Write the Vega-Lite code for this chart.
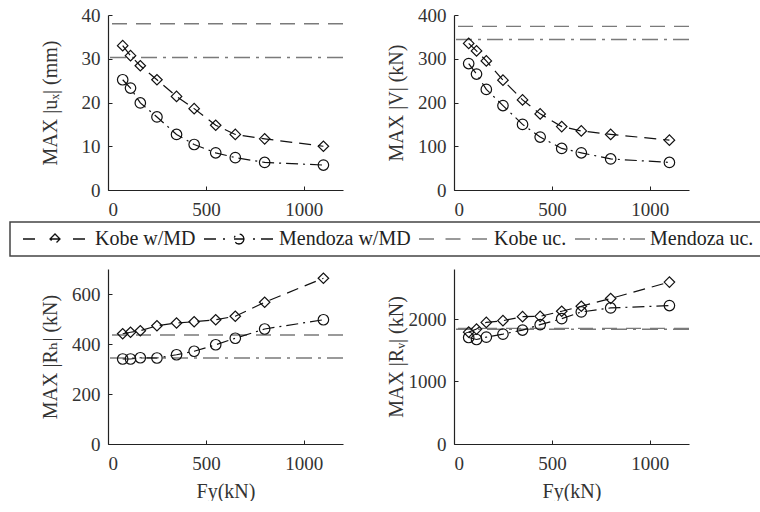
{
  "$schema": "https://vega.github.io/schema/vega-lite/v6.json",
  "padding": {"left": 9, "top": 6, "right": 0, "bottom": 0},
  "bounds": "flush",
  "data": {
    "values": [
      {"panel": "ux", "series": "Kobe w/MD", "kind": "md", "Fy": 75, "value": 33.0},
      {"panel": "ux", "series": "Kobe w/MD", "kind": "md", "Fy": 115, "value": 30.7},
      {"panel": "ux", "series": "Kobe w/MD", "kind": "md", "Fy": 165, "value": 28.4},
      {"panel": "ux", "series": "Kobe w/MD", "kind": "md", "Fy": 250, "value": 25.2},
      {"panel": "ux", "series": "Kobe w/MD", "kind": "md", "Fy": 350, "value": 21.4},
      {"panel": "ux", "series": "Kobe w/MD", "kind": "md", "Fy": 440, "value": 18.6},
      {"panel": "ux", "series": "Kobe w/MD", "kind": "md", "Fy": 550, "value": 14.8},
      {"panel": "ux", "series": "Kobe w/MD", "kind": "md", "Fy": 650, "value": 12.7},
      {"panel": "ux", "series": "Kobe w/MD", "kind": "md", "Fy": 800, "value": 11.7},
      {"panel": "ux", "series": "Kobe w/MD", "kind": "md", "Fy": 1100, "value": 10.0},
      {"panel": "ux", "series": "Mendoza w/MD", "kind": "md", "Fy": 75, "value": 25.2},
      {"panel": "ux", "series": "Mendoza w/MD", "kind": "md", "Fy": 115, "value": 23.3},
      {"panel": "ux", "series": "Mendoza w/MD", "kind": "md", "Fy": 165, "value": 19.9},
      {"panel": "ux", "series": "Mendoza w/MD", "kind": "md", "Fy": 250, "value": 16.7},
      {"panel": "ux", "series": "Mendoza w/MD", "kind": "md", "Fy": 350, "value": 12.7},
      {"panel": "ux", "series": "Mendoza w/MD", "kind": "md", "Fy": 440, "value": 10.4},
      {"panel": "ux", "series": "Mendoza w/MD", "kind": "md", "Fy": 550, "value": 8.5},
      {"panel": "ux", "series": "Mendoza w/MD", "kind": "md", "Fy": 650, "value": 7.4},
      {"panel": "ux", "series": "Mendoza w/MD", "kind": "md", "Fy": 800, "value": 6.3},
      {"panel": "ux", "series": "Mendoza w/MD", "kind": "md", "Fy": 1100, "value": 5.7},
      {"panel": "ux", "series": "Kobe uc.", "kind": "uc", "value": 38.0},
      {"panel": "ux", "series": "Mendoza uc.", "kind": "uc", "value": 30.3},

      {"panel": "V", "series": "Kobe w/MD", "kind": "md", "Fy": 75, "value": 335},
      {"panel": "V", "series": "Kobe w/MD", "kind": "md", "Fy": 115, "value": 318},
      {"panel": "V", "series": "Kobe w/MD", "kind": "md", "Fy": 165, "value": 295},
      {"panel": "V", "series": "Kobe w/MD", "kind": "md", "Fy": 250, "value": 251},
      {"panel": "V", "series": "Kobe w/MD", "kind": "md", "Fy": 350, "value": 206},
      {"panel": "V", "series": "Kobe w/MD", "kind": "md", "Fy": 440, "value": 174},
      {"panel": "V", "series": "Kobe w/MD", "kind": "md", "Fy": 550, "value": 145},
      {"panel": "V", "series": "Kobe w/MD", "kind": "md", "Fy": 650, "value": 135},
      {"panel": "V", "series": "Kobe w/MD", "kind": "md", "Fy": 800, "value": 127},
      {"panel": "V", "series": "Kobe w/MD", "kind": "md", "Fy": 1100, "value": 114},
      {"panel": "V", "series": "Mendoza w/MD", "kind": "md", "Fy": 75, "value": 289},
      {"panel": "V", "series": "Mendoza w/MD", "kind": "md", "Fy": 115, "value": 265},
      {"panel": "V", "series": "Mendoza w/MD", "kind": "md", "Fy": 165, "value": 230},
      {"panel": "V", "series": "Mendoza w/MD", "kind": "md", "Fy": 250, "value": 193},
      {"panel": "V", "series": "Mendoza w/MD", "kind": "md", "Fy": 350, "value": 150},
      {"panel": "V", "series": "Mendoza w/MD", "kind": "md", "Fy": 440, "value": 121},
      {"panel": "V", "series": "Mendoza w/MD", "kind": "md", "Fy": 550, "value": 95},
      {"panel": "V", "series": "Mendoza w/MD", "kind": "md", "Fy": 650, "value": 85},
      {"panel": "V", "series": "Mendoza w/MD", "kind": "md", "Fy": 800, "value": 71},
      {"panel": "V", "series": "Mendoza w/MD", "kind": "md", "Fy": 1100, "value": 63},
      {"panel": "V", "series": "Kobe uc.", "kind": "uc", "value": 374},
      {"panel": "V", "series": "Mendoza uc.", "kind": "uc", "value": 344},

      {"panel": "Rh", "series": "Kobe w/MD", "kind": "md", "Fy": 75, "value": 441},
      {"panel": "Rh", "series": "Kobe w/MD", "kind": "md", "Fy": 115, "value": 447},
      {"panel": "Rh", "series": "Kobe w/MD", "kind": "md", "Fy": 165, "value": 453},
      {"panel": "Rh", "series": "Kobe w/MD", "kind": "md", "Fy": 250, "value": 473},
      {"panel": "Rh", "series": "Kobe w/MD", "kind": "md", "Fy": 350, "value": 484},
      {"panel": "Rh", "series": "Kobe w/MD", "kind": "md", "Fy": 440, "value": 489},
      {"panel": "Rh", "series": "Kobe w/MD", "kind": "md", "Fy": 550, "value": 497},
      {"panel": "Rh", "series": "Kobe w/MD", "kind": "md", "Fy": 650, "value": 511},
      {"panel": "Rh", "series": "Kobe w/MD", "kind": "md", "Fy": 800, "value": 567},
      {"panel": "Rh", "series": "Kobe w/MD", "kind": "md", "Fy": 1100, "value": 663},
      {"panel": "Rh", "series": "Mendoza w/MD", "kind": "md", "Fy": 75, "value": 340},
      {"panel": "Rh", "series": "Mendoza w/MD", "kind": "md", "Fy": 115, "value": 340},
      {"panel": "Rh", "series": "Mendoza w/MD", "kind": "md", "Fy": 165, "value": 345},
      {"panel": "Rh", "series": "Mendoza w/MD", "kind": "md", "Fy": 250, "value": 344},
      {"panel": "Rh", "series": "Mendoza w/MD", "kind": "md", "Fy": 350, "value": 357},
      {"panel": "Rh", "series": "Mendoza w/MD", "kind": "md", "Fy": 440, "value": 371},
      {"panel": "Rh", "series": "Mendoza w/MD", "kind": "md", "Fy": 550, "value": 397},
      {"panel": "Rh", "series": "Mendoza w/MD", "kind": "md", "Fy": 650, "value": 423},
      {"panel": "Rh", "series": "Mendoza w/MD", "kind": "md", "Fy": 800, "value": 460},
      {"panel": "Rh", "series": "Mendoza w/MD", "kind": "md", "Fy": 1100, "value": 497},
      {"panel": "Rh", "series": "Kobe uc.", "kind": "uc", "value": 436},
      {"panel": "Rh", "series": "Mendoza uc.", "kind": "uc", "value": 344},

      {"panel": "Rv", "series": "Kobe w/MD", "kind": "md", "Fy": 75, "value": 1790},
      {"panel": "Rv", "series": "Kobe w/MD", "kind": "md", "Fy": 115, "value": 1839},
      {"panel": "Rv", "series": "Kobe w/MD", "kind": "md", "Fy": 165, "value": 1946},
      {"panel": "Rv", "series": "Kobe w/MD", "kind": "md", "Fy": 250, "value": 1973},
      {"panel": "Rv", "series": "Kobe w/MD", "kind": "md", "Fy": 350, "value": 2038},
      {"panel": "Rv", "series": "Kobe w/MD", "kind": "md", "Fy": 440, "value": 2043},
      {"panel": "Rv", "series": "Kobe w/MD", "kind": "md", "Fy": 550, "value": 2124},
      {"panel": "Rv", "series": "Kobe w/MD", "kind": "md", "Fy": 650, "value": 2204},
      {"panel": "Rv", "series": "Kobe w/MD", "kind": "md", "Fy": 800, "value": 2328},
      {"panel": "Rv", "series": "Kobe w/MD", "kind": "md", "Fy": 1100, "value": 2591},
      {"panel": "Rv", "series": "Mendoza w/MD", "kind": "md", "Fy": 75, "value": 1704},
      {"panel": "Rv", "series": "Mendoza w/MD", "kind": "md", "Fy": 115, "value": 1672},
      {"panel": "Rv", "series": "Mendoza w/MD", "kind": "md", "Fy": 165, "value": 1710},
      {"panel": "Rv", "series": "Mendoza w/MD", "kind": "md", "Fy": 250, "value": 1758},
      {"panel": "Rv", "series": "Mendoza w/MD", "kind": "md", "Fy": 350, "value": 1823},
      {"panel": "Rv", "series": "Mendoza w/MD", "kind": "md", "Fy": 440, "value": 1909},
      {"panel": "Rv", "series": "Mendoza w/MD", "kind": "md", "Fy": 550, "value": 2005},
      {"panel": "Rv", "series": "Mendoza w/MD", "kind": "md", "Fy": 650, "value": 2113},
      {"panel": "Rv", "series": "Mendoza w/MD", "kind": "md", "Fy": 800, "value": 2177},
      {"panel": "Rv", "series": "Mendoza w/MD", "kind": "md", "Fy": 1100, "value": 2215},
      {"panel": "Rv", "series": "Kobe uc.", "kind": "uc", "value": 1850},
      {"panel": "Rv", "series": "Mendoza uc.", "kind": "uc", "value": 1835}
    ]
  },
  "columns": 2,
  "spacing": {"row": 79, "column": 111},
  "resolve": {
    "scale": {"stroke": "shared", "strokeDash": "shared", "shape": "shared"},
    "legend": {"stroke": "shared"}
  },
  "concat": [
    {
      "width": 235, "height": 175,
      "transform": [{"filter": "datum.panel === 'ux'"}],
      "encoding": {
        "y": {"field": "value", "type": "quantitative", "scale": {"domain": [0, 40], "nice": false}, "axis": {"title": "MAX |uₓ| (mm)", "values": [0, 10, 20, 30, 40]}}
      },
      "layer": [
        {
          "transform": [{"filter": "datum.kind === 'uc'"}],
          "mark": {"type": "rule", "strokeWidth": 1.4},
          "encoding": {
            "stroke": {"field": "series", "type": "nominal",
              "scale": {"domain": ["Kobe w/MD", "Mendoza w/MD", "Kobe uc.", "Mendoza uc."], "range": ["#111111", "#111111", "#7a7a7a", "#7a7a7a"]},
              "legend": {
                "title": null, "orient": "none", "direction": "horizontal", "legendX": -98, "legendY": 207,
                "symbolSize": 100, "symbolStrokeWidth": 1.3, "symbolOffset": 28, "labelOffset": 30, "columnPadding": 5, "padding": 7,
                "labelFont": "Liberation Serif, Times New Roman, DejaVu Serif, serif", "labelFontSize": 20, "labelColor": "#222222", "labelLimit": 300,
                "strokeColor": "#444444",
                "encode": {
                  "legend": {"update": {"strokeWidth": {"value": 1.5}}},
                  "symbols": {"update": {
                    "shape": {"signal": "datum.value === 'Kobe w/MD' ? 'M-6.4,0L-3.6,0M3.6,0L6.4,0M0,-1L1,0L0,1L-1,0ZM-1,0L1,0' : datum.value === 'Mendoza w/MD' ? 'M-7,0L-4.4,0M-3.2,0L-2.8,0M2.8,0L3.2,0M4.4,0L7,0M1,0L0.866,0.5L0.5,0.866L0,1L-0.5,0.866L-0.866,0.5L-1,0L-0.866,-0.5L-0.5,-0.866L0,-1L0.5,-0.866L0.866,-0.5ZM-1,0L1,0' : datum.value === 'Kobe uc.' ? 'M-7,0L-3.6,0M-1.7,0L1.7,0M3.6,0L7,0' : 'M-7,0L-4,0M-3,0L-2.6,0M-1.6,0L1.6,0M2.6,0L3,0M4,0L7,0'"},
                    "strokeDash": {"value": [1, 0]},
                    "fill": {"value": "transparent"}
                  }}
                }
              }
            },
            "strokeDash": {"field": "series", "type": "nominal", "scale": {"domain": ["Kobe w/MD", "Mendoza w/MD", "Kobe uc.", "Mendoza uc."], "range": [[12, 7], [12, 5, 2, 5], [15, 9], [16, 6, 3, 6]]}, "legend": null}
          }
        },
        {
          "transform": [{"filter": "datum.kind === 'md'"}],
          "mark": {"type": "line", "color": "#111111", "strokeWidth": 1.2},
          "encoding": {
            "x": {"field": "Fy", "type": "quantitative", "scale": {"domain": [0, 1200], "nice": false}, "axis": {"title": null, "values": [0, 500, 1000]}},
            "strokeDash": {"field": "series", "type": "nominal", "legend": null}
          }
        },
        {
          "transform": [{"filter": "datum.kind === 'md'"}],
          "mark": {"type": "point", "filled": false, "color": "#111111", "size": 110, "strokeWidth": 1.2, "opacity": 1},
          "encoding": {
            "x": {"field": "Fy", "type": "quantitative"},
            "shape": {"field": "series", "type": "nominal", "scale": {"domain": ["Kobe w/MD", "Mendoza w/MD"], "range": ["diamond", "circle"]}, "legend": null}
          }
        }
      ]
    },
    {
      "width": 235, "height": 175,
      "transform": [{"filter": "datum.panel === 'V'"}],
      "encoding": {
        "y": {"field": "value", "type": "quantitative", "scale": {"domain": [0, 400], "nice": false}, "axis": {"title": "MAX |V| (kN)", "values": [0, 100, 200, 300, 400]}}
      },
      "layer": [
        {
          "transform": [{"filter": "datum.kind === 'uc'"}],
          "mark": {"type": "rule", "strokeWidth": 1.4},
          "encoding": {
            "stroke": {"field": "series", "type": "nominal", "legend": null},
            "strokeDash": {"field": "series", "type": "nominal", "legend": null}
          }
        },
        {
          "transform": [{"filter": "datum.kind === 'md'"}],
          "mark": {"type": "line", "color": "#111111", "strokeWidth": 1.2},
          "encoding": {
            "x": {"field": "Fy", "type": "quantitative", "scale": {"domain": [0, 1200], "nice": false}, "axis": {"title": null, "values": [0, 500, 1000]}},
            "strokeDash": {"field": "series", "type": "nominal", "legend": null}
          }
        },
        {
          "transform": [{"filter": "datum.kind === 'md'"}],
          "mark": {"type": "point", "filled": false, "color": "#111111", "size": 110, "strokeWidth": 1.2, "opacity": 1},
          "encoding": {
            "x": {"field": "Fy", "type": "quantitative"},
            "shape": {"field": "series", "type": "nominal", "legend": null}
          }
        }
      ]
    },
    {
      "width": 235, "height": 175,
      "transform": [{"filter": "datum.panel === 'Rh'"}],
      "encoding": {
        "y": {"field": "value", "type": "quantitative", "scale": {"domain": [0, 700], "nice": false}, "axis": {"title": "MAX |Rₕ| (kN)", "values": [0, 200, 400, 600]}}
      },
      "layer": [
        {
          "transform": [{"filter": "datum.kind === 'uc'"}],
          "mark": {"type": "rule", "strokeWidth": 1.4},
          "encoding": {
            "stroke": {"field": "series", "type": "nominal", "legend": null},
            "strokeDash": {"field": "series", "type": "nominal", "legend": null}
          }
        },
        {
          "transform": [{"filter": "datum.kind === 'md'"}],
          "mark": {"type": "line", "color": "#111111", "strokeWidth": 1.2},
          "encoding": {
            "x": {"field": "Fy", "type": "quantitative", "scale": {"domain": [0, 1200], "nice": false}, "axis": {"title": "Fy(kN)", "values": [0, 500, 1000]}},
            "strokeDash": {"field": "series", "type": "nominal", "legend": null}
          }
        },
        {
          "transform": [{"filter": "datum.kind === 'md'"}],
          "mark": {"type": "point", "filled": false, "color": "#111111", "size": 110, "strokeWidth": 1.2, "opacity": 1},
          "encoding": {
            "x": {"field": "Fy", "type": "quantitative"},
            "shape": {"field": "series", "type": "nominal", "legend": null}
          }
        }
      ]
    },
    {
      "width": 235, "height": 175,
      "transform": [{"filter": "datum.panel === 'Rv'"}],
      "encoding": {
        "y": {"field": "value", "type": "quantitative", "scale": {"domain": [0, 2800], "nice": false}, "axis": {"title": "MAX |Rᵥ| (kN)", "values": [0, 1000, 2000]}}
      },
      "layer": [
        {
          "transform": [{"filter": "datum.kind === 'uc'"}],
          "mark": {"type": "rule", "strokeWidth": 1.4},
          "encoding": {
            "stroke": {"field": "series", "type": "nominal", "legend": null},
            "strokeDash": {"field": "series", "type": "nominal", "legend": null}
          }
        },
        {
          "transform": [{"filter": "datum.kind === 'md'"}],
          "mark": {"type": "line", "color": "#111111", "strokeWidth": 1.2},
          "encoding": {
            "x": {"field": "Fy", "type": "quantitative", "scale": {"domain": [0, 1200], "nice": false}, "axis": {"title": "Fy(kN)", "values": [0, 500, 1000]}},
            "strokeDash": {"field": "series", "type": "nominal", "legend": null}
          }
        },
        {
          "transform": [{"filter": "datum.kind === 'md'"}],
          "mark": {"type": "point", "filled": false, "color": "#111111", "size": 110, "strokeWidth": 1.2, "opacity": 1},
          "encoding": {
            "x": {"field": "Fy", "type": "quantitative"},
            "shape": {"field": "series", "type": "nominal", "legend": null}
          }
        }
      ]
    }
  ],
  "config": {
    "view": {"stroke": null},
    "font": "Liberation Serif, Times New Roman, DejaVu Serif, serif",
    "axis": {
      "grid": false,
      "domainColor": "#222222", "domainWidth": 1.2,
      "tickColor": "#222222", "tickSize": -4, "tickWidth": 1,
      "labelFont": "Liberation Serif, Times New Roman, DejaVu Serif, serif", "labelFontSize": 19, "labelColor": "#333333",
      "titleFont": "Liberation Serif, Times New Roman, DejaVu Serif, serif", "titleFontSize": 20, "titleFontWeight": "normal", "titleColor": "#333333",
      "format": "d"
    },
    "axisX": {"labelPadding": 14, "titleY": 53, "titleBaseline": "alphabetic"},
    "axisY": {"labelPadding": 12, "titleX": -58, "titleBaseline": "middle"}
  }
}
